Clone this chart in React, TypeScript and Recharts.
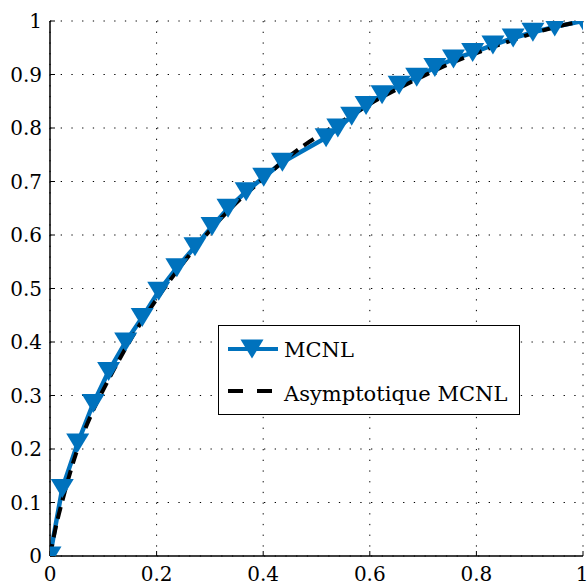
import { LineChart, Line, XAxis, YAxis, CartesianGrid, Legend } from 'recharts';

const MCNL_X = [0, 0.023, 0.052, 0.081, 0.11, 0.142, 0.173, 0.204, 0.238, 0.272, 0.304, 0.334, 0.368, 0.401, 0.436, 0.518, 0.54, 0.566, 0.593, 0.623, 0.655, 0.688, 0.722, 0.757, 0.793, 0.831, 0.869, 0.906, 0.947, 1];
const MCNL_Y = [0, 0.126, 0.211, 0.285, 0.345, 0.4, 0.446, 0.495, 0.539, 0.578, 0.616, 0.65, 0.681, 0.708, 0.736, 0.782, 0.8, 0.822, 0.842, 0.862, 0.88, 0.895, 0.913, 0.929, 0.941, 0.955, 0.968, 0.979, 0.989, 1];

const ASYM_X = [0, 0.01, 0.025, 0.05, 0.08, 0.11, 0.14, 0.17, 0.2, 0.24, 0.28, 0.32, 0.36, 0.4, 0.44, 0.48, 0.52, 0.56, 0.6, 0.65, 0.7, 0.75, 0.8, 0.85, 0.9, 0.95, 1];
const ASYM_Y = [0, 0.05, 0.11, 0.195, 0.27, 0.33, 0.385, 0.435, 0.48, 0.535, 0.585, 0.63, 0.67, 0.705, 0.74, 0.77, 0.795, 0.82, 0.845, 0.872, 0.897, 0.92, 0.94, 0.958, 0.975, 0.989, 1];

const X_TICKS = [0, 0.2, 0.4, 0.6, 0.8, 1];
const Y_TICKS = [0, 0.1, 0.2, 0.3, 0.4, 0.5, 0.6, 0.7, 0.8, 0.9, 1];

const mcnl = MCNL_X.map((x, i) => ({ x, y: MCNL_Y[i] }));
const asym = ASYM_X.map((x, i) => ({ x, y: ASYM_Y[i] }));

const BLUE = '#0072BD';
const FONT = 'DejaVu Serif';
const tickStyle = { fontFamily: FONT, fontSize: 20, fill: '#000' };

const Triangle = (props: any) => {
  const { cx, cy } = props;
  if (cx == null || cy == null) return null;
  return <polygon points={`${cx - 11.5},${cy - 9.5} ${cx + 11.5},${cy - 9.5} ${cx},${cy + 9.5}`} fill={BLUE} />;
};

const LegendBox = () => (
  <div
    style={{
      width: 302,
      height: 90,
      border: '1.5px solid #000',
      background: '#fff',
      boxSizing: 'border-box',
    }}
  >
    <svg width={300} height={88} style={{ position: 'absolute', left: 0, top: 0 }}>
      <line x1={10} x2={60} y1={24} y2={24} stroke={BLUE} strokeWidth={4} />
      <polygon points="22.5,14.5 45.5,14.5 34,33.5" fill={BLUE} />
      <line x1={10} x2={60} y1={66} y2={66} stroke="#000" strokeWidth={4} strokeDasharray="15 14" />
      <text x={66} y={32} style={{ fontFamily: FONT, fontSize: 21 }} fill="#000">MCNL</text>
      <text x={66} y={76} style={{ fontFamily: FONT, fontSize: 21 }} fill="#000">Asymptotique MCNL</text>
    </svg>
  </div>
);

export default function App() {
  return (
    <div style={{ position: 'absolute', left: 0, top: 0, background: '#fff', fontFamily: FONT }}>
      <LineChart width={587} height={583} margin={{ top: 21, right: 4, bottom: 0, left: 0 }}>
        <CartesianGrid
          stroke="#000"
          strokeDasharray="1.3 9.4"
          horizontalValues={Y_TICKS}
          verticalValues={X_TICKS}
        />
        <XAxis
          dataKey="x"
          type="number"
          domain={[0, 1]}
          ticks={X_TICKS}
          height={27}
          tick={tickStyle}
          tickSize={-5}
          tickMargin={16}
          axisLine={{ stroke: '#000', strokeWidth: 1.5 }}
          tickLine={{ stroke: '#000' }}
          allowDataOverflow
        />
        <XAxis
          xAxisId="top"
          orientation="top"
          type="number"
          domain={[0, 1]}
          ticks={X_TICKS}
          height={0}
          tick={false}
          tickSize={-5}
          axisLine={{ stroke: '#000', strokeWidth: 1.5 }}
          tickLine={{ stroke: '#000' }}
        />
        <YAxis
          dataKey="y"
          type="number"
          domain={[0, 1]}
          ticks={Y_TICKS}
          width={50}
          tick={tickStyle}
          tickSize={-5}
          tickMargin={13}
          axisLine={{ stroke: '#000', strokeWidth: 1.5 }}
          tickLine={{ stroke: '#000' }}
          allowDataOverflow
        />
        <YAxis
          yAxisId="right"
          orientation="right"
          type="number"
          domain={[0, 1]}
          ticks={Y_TICKS}
          width={0}
          tick={false}
          tickSize={-5}
          axisLine={{ stroke: '#000', strokeWidth: 1.5 }}
          tickLine={{ stroke: '#000' }}
        />
        <Line
          data={mcnl}
          dataKey="y"
          name="MCNL"
          type="linear"
          stroke={BLUE}
          strokeWidth={4.5}
          dot={<Triangle />}
          activeDot={false}
          isAnimationActive={false}
        />
        <Line
          data={asym}
          dataKey="y"
          name="Asymptotique MCNL"
          type="monotone"
          stroke="#000"
          strokeWidth={4}
          strokeDasharray="12 7"
          dot={false}
          activeDot={false}
          isAnimationActive={false}
        />
        <Legend
          layout="vertical"
          align="center"
          verticalAlign="middle"
          content={<LegendBox />}
          wrapperStyle={{ position: 'absolute', left: 218, top: 325, width: 302, height: 90 }}
        />
      </LineChart>
    </div>
  );
}
